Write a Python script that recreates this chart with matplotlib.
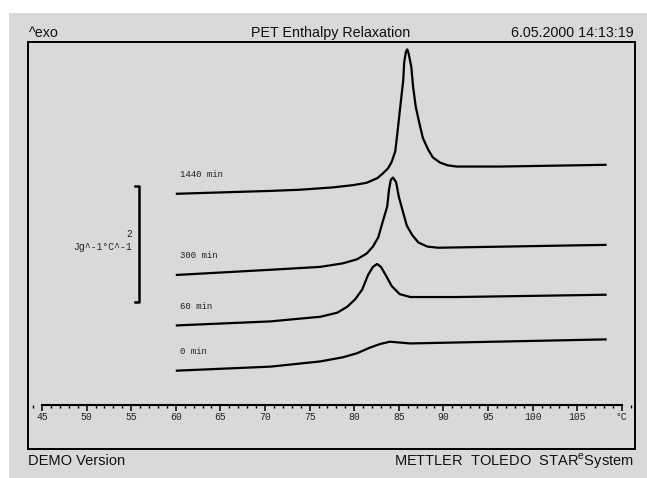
import matplotlib
matplotlib.use('Agg')
import matplotlib.pyplot as plt
from matplotlib.patches import Rectangle
from matplotlib.ticker import MultipleLocator, FixedLocator, FixedFormatter

# data (temperature in °C, signal in Jg^-1°C^-1, offset per curve)
T_1440 = [60.0, 70.6, 73.9, 77.6, 79.9, 81.4, 82.6, 83.2, 83.8, 84.2, 84.6, 84.8,
          85.0, 85.25, 85.5, 85.6, 85.8, 85.95, 86.1, 86.4, 86.6, 86.9, 87.3, 87.7,
          88.3, 88.8, 89.6, 90.5, 91.5, 96.4, 108.3]
y_1440 = [4.40, 4.45, 4.47, 4.51, 4.55, 4.59, 4.67, 4.75, 4.84, 4.95, 5.13, 5.39,
          5.67, 6.02, 6.36, 6.66, 6.85, 6.89, 6.82, 6.59, 6.25, 5.90, 5.62, 5.36,
          5.16, 5.03, 4.94, 4.89, 4.87, 4.87, 4.90]

T_300 = [60.0, 70.6, 76.2, 78.7, 80.3, 81.4, 82.1, 82.7, 83.2, 83.7, 83.9, 84.1,
         84.35, 84.7, 85.0, 85.5, 85.9, 86.5, 87.2, 88.2, 89.4, 108.3]
y_300 = [3.00, 3.09, 3.14, 3.20, 3.27, 3.37, 3.49, 3.65, 3.92, 4.18, 4.47, 4.64,
         4.68, 4.60, 4.35, 4.07, 3.85, 3.69, 3.56, 3.49, 3.47, 3.52]

T_60 = [60.0, 70.6, 76.2, 78.1, 79.2, 80.1, 80.9, 81.55, 82.1, 82.56, 83.0, 83.6,
        84.2, 85.1, 86.3, 91.5, 108.3]
y_60 = [2.13, 2.20, 2.28, 2.35, 2.45, 2.58, 2.75, 3.00, 3.14, 3.19, 3.14, 2.98,
        2.81, 2.67, 2.62, 2.62, 2.66]

T_0 = [60.0, 70.6, 76.2, 78.7, 80.3, 81.8, 82.9, 84.0, 86.3, 108.3]
y_0 = [1.35, 1.42, 1.51, 1.58, 1.65, 1.75, 1.81, 1.85, 1.82, 1.89]

curve_names = ['1440 min', '300 min', '60 min', '0 min']
x_ticks = [45, 50, 55, 60, 65, 70, 75, 80, 85, 90, 95, 100, 105, 110]
x_ticklabels = ['45', '50', '55', '60', '65', '70', '75', '80', '85', '90', '95', '100', '105', '°C']
scale_value = 2

W, H = 647, 478
fig = plt.figure(figsize=(W / 100, H / 100), dpi=100, facecolor='white')

# grey panel behind everything
gray = '#d9d9d9'
bg = Rectangle((9 / W, 0), 1 - 9 / W, 1 - 13 / H, transform=fig.transFigure,
               facecolor=gray, edgecolor='none', zorder=-10)
fig.add_artist(bg)

# frame
fx0, fx1, fy0, fy1 = 28, 635, 42, 449
pos = [fx0 / W, 1 - fy1 / H, (fx1 - fx0) / W, (fy1 - fy0) / H]
frame = fig.add_axes(pos)
frame.set_facecolor('none')
frame.set_xticks([])
frame.set_yticks([])
for s in frame.spines.values():
    s.set_linewidth(1.4)
    s.set_color('black')

ax = fig.add_axes(pos)
ax.set_facecolor('none')
ax.set_xlim(43.43, 111.48)
ax.set_ylim(0, 407 / 58)
ax.set_yticks([])
for side in ['top', 'left', 'right']:
    ax.spines[side].set_visible(False)
ax.spines['bottom'].set_position(('data', 0.76))
ax.spines['bottom'].set_bounds(45, 110)
ax.spines['bottom'].set_linewidth(1.5)
ax.xaxis.set_major_locator(FixedLocator(x_ticks))
ax.xaxis.set_major_formatter(FixedFormatter(x_ticklabels))
ax.xaxis.set_minor_locator(MultipleLocator(1))
ax.tick_params(axis='x', which='major', direction='out', length=4, width=1.1, pad=1,
               labelsize=7, colors='black', labelcolor='#222222',
               labelfontfamily='Liberation Mono')
ax.tick_params(axis='x', which='minor', direction='out', length=2.5, width=1.0)

# curves
for T, y, name in zip([T_1440, T_300, T_60, T_0], [y_1440, y_300, y_60, y_0], curve_names):
    ax.plot(T, y, color='black', linewidth=1.6, solid_joinstyle='round', solid_capstyle='butt')
    ax.annotate(name, (T[0], y[0]), xytext=(3, 14), textcoords='offset points',
                ha='left', va='center', fontsize=6.5, family='Liberation Mono', color='#222222')

# scale bar
sb_x, sb_y0 = 55.87, 2.534
ax.plot([sb_x - 0.45, sb_x, sb_x, sb_x - 0.45], [sb_y0, sb_y0, sb_y0 + scale_value, sb_y0 + scale_value],
        color='black', linewidth=1.8)
ax.text(55.1, 3.71, str(scale_value), ha='right', va='center', fontsize=7,
        family='Liberation Mono', color='#222222')
ax.text(55.1, 3.48, 'Jg^-1°C^-1', ha='right', va='center', fontsize=7,
        family='Liberation Mono', color='#222222')

# header and footer
sans = 'Liberation Sans'
fig.text(29 / W, 1 - 33 / H, '^exo', ha='left', va='center', fontsize=10.3, family=sans, color='#111111')
fig.text(331 / W, 1 - 33 / H, 'PET Enthalpy Relaxation', ha='center', va='center', fontsize=10.3,
         family=sans, color='#111111')
fig.text(634 / W, 1 - 33 / H, '6.05.2000 14:13:19', ha='right', va='center', fontsize=10.3,
         family=sans, color='#111111')
fig.text(28 / W, 1 - 461 / H, 'DEMO Version', ha='left', va='center', fontsize=10.5,
         family=sans, color='#111111')
fig.text(634 / W, 1 - 461 / H, 'METTLER  TOLEDO  STAR$^\\mathregular{e}$System', ha='right',
         va='center', fontsize=10.5, family=sans, color='#111111')

plt.savefig('out.png', dpi=100, facecolor='white')
